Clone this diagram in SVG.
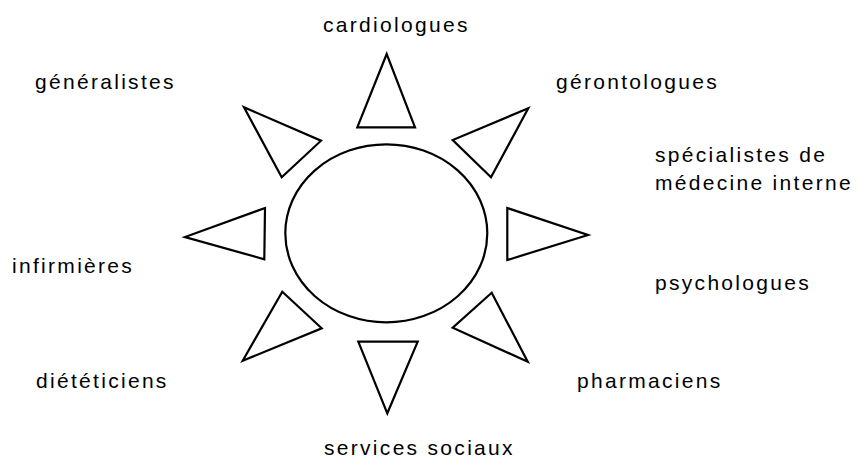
<svg xmlns="http://www.w3.org/2000/svg" width="858" height="467" viewBox="0 0 858 467">
<style>
.s{fill:#fff;stroke:#000;stroke-width:2.2;stroke-linejoin:miter}
.t{font-family:"Liberation Sans",Arial,sans-serif;font-size:21px;letter-spacing:2.3px;fill:#000}
</style>
<rect width="858" height="467" fill="#fff"/>
<g id="centre"><ellipse class="s" cx="386.3" cy="233.3" rx="101" ry="89"/></g>
<g id="connectors"></g>
<g id="ray-n"><polygon class="s" points="386.7,54 357.3,127.3 415,127.3"/></g>
<g id="ray-nw"><polygon class="s" points="244,107.3 321,140.7 281.7,177.3"/></g>
<g id="ray-ne"><polygon class="s" points="528.3,108.3 452.7,140 491,177.3"/></g>
<g id="ray-e"><polygon class="s" points="507.3,208 588,235 507.3,260"/></g>
<g id="ray-w"><polygon class="s" points="265,208 185,237 264.3,259.3"/></g>
<g id="ray-sw"><polygon class="s" points="282.3,291.7 321.7,328.3 242.7,360.7"/></g>
<g id="ray-se"><polygon class="s" points="491.7,292.7 452.7,327.7 527.7,361.7"/></g>
<g id="ray-s"><polygon class="s" points="358.3,341.7 417.7,341.7 387.3,413.3"/></g>
<g id="labels">
<text class="t" x="323" y="32">cardiologues</text>
<text class="t" x="35" y="89">généralistes</text>
<text class="t" x="556" y="89">gérontologues</text>
<text class="t" x="655" y="162">spécialistes de</text>
<text class="t" x="655" y="190">médecine interne</text>
<text class="t" x="12" y="273">infirmières</text>
<text class="t" x="655" y="290">psychologues</text>
<text class="t" x="36" y="388">diététiciens</text>
<text class="t" x="577" y="388">pharmaciens</text>
<text class="t" x="324" y="455">services sociaux</text>
</g>
</svg>
